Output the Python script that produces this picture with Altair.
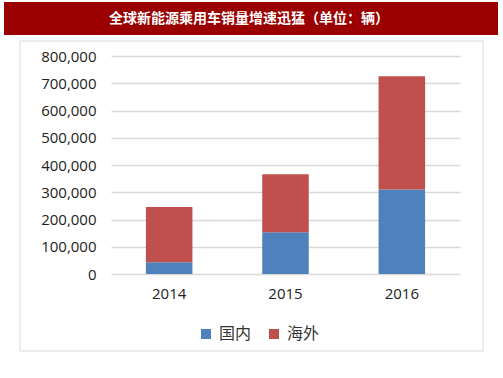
import altair as alt
import pandas as pd

years = ["2014", "2015", "2016"]
domestic = [43000, 153000, 310000]
overseas = [203000, 213000, 416000]
series = ["国内", "海外"]
colors = ["#4F81BD", "#C0504D"]
title_text = "全球新能源乘用车销量增速迅猛（单位：辆）"
y_ticks = [0, 100000, 200000, 300000, 400000, 500000, 600000, 700000, 800000]

rows = []
for i, y in enumerate(years):
    rows.append({"year": y, "series": series[0], "value": domestic[i], "ord": 0})
    rows.append({"year": y, "series": series[1], "value": overseas[i], "ord": 1})
df = pd.DataFrame(rows)
one = pd.DataFrame({"t": [title_text]})

W, H = 349, 218
PL, PT = 111, 56

border = alt.Chart(one).mark_rect(filled=False, stroke="#D9D9D9", strokeWidth=1).encode(
    x=alt.value(20 - PL), x2=alt.value(483 - PL),
    y=alt.value(41 - PT), y2=alt.value(351 - PT),
)
band = alt.Chart(one).mark_rect(fill="#9B0000").encode(
    x=alt.value(4 - PL), x2=alt.value(498 - PL),
    y=alt.value(2 - PT), y2=alt.value(35 - PT),
)
title = alt.Chart(one).mark_text(
    color="white", fontSize=14, fontWeight="bold", font="Noto Sans CJK SC",
    align="center", baseline="middle",
).encode(x=alt.value(249 - PL), y=alt.value(18.5 - PT), text="t:N")

bars = alt.Chart(df).mark_bar().encode(
    x=alt.X("year:N", sort=years, title=None,
            scale=alt.Scale(paddingInner=0.6, paddingOuter=0.3),
            axis=alt.Axis(labelAngle=0, domain=False, ticks=False, labelPadding=12,
                          labelFontSize=15, labelFont="Open Sans", labelColor="#222222")),
    y=alt.Y("value:Q", stack="zero", title=None,
            scale=alt.Scale(domain=[0, 800000], nice=False),
            axis=alt.Axis(values=y_ticks, format=",.0f", domain=False, ticks=False,
                          labelPadding=15, labelFontSize=15, labelFont="Open Sans",
                          labelColor="#222222", gridColor="#D9D9D9", gridWidth=1.5)),
    color=alt.Color("series:N", sort=series, title=None,
                    scale=alt.Scale(domain=series, range=colors),
                    legend=alt.Legend(orient="none", legendX=87, legendY=270,
                                      direction="horizontal", symbolType="square",
                                      symbolSize=100, symbolStrokeWidth=0,
                                      labelFontSize=16, labelFont="Noto Sans CJK SC",
                                      labelColor="#333333", labelOffset=5,
                                      columnPadding=14, padding=0)),
    order=alt.Order("ord:Q", sort="ascending"),
)

chart = alt.layer(border, band, title, bars).properties(
    width=W, height=H,
    autosize=alt.AutoSizeParams(type="none"),
    padding={"left": PL, "top": PT, "right": 503 - PL - W, "bottom": 378 - PT - H},
).configure_view(stroke=None)

chart.save("out.html", embed_options={"renderer": "svg", "actions": False})
